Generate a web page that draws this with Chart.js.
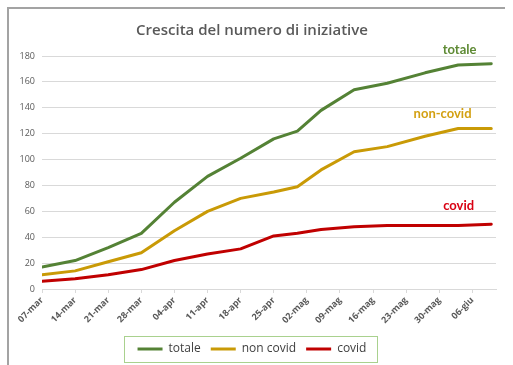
<!DOCTYPE html>
<html lang="it">
<head>
<meta charset="utf-8">
<title>Crescita del numero di iniziative</title>
<script src="https://cdn.jsdelivr.net/npm/chart.js@4.4.1/dist/chart.umd.min.js"></script>
<style>
  html, body { margin: 0; padding: 0; background: #ffffff; }
  #wrap { width: 513px; height: 365px; position: relative; }
</style>
</head>
<body>
<div id="wrap"><canvas id="grafico" width="513" height="365"></canvas></div>
<script>
// Date di rilevazione (2020)
const dateRilevazione = [
  '2020-03-07', '2020-03-14', '2020-03-21', '2020-03-28', '2020-04-04',
  '2020-04-11', '2020-04-18', '2020-04-25', '2020-04-30', '2020-05-05',
  '2020-05-12', '2020-05-19', '2020-05-27', '2020-06-03', '2020-06-10'
];

// Numero cumulato di iniziative
const totale   = [17, 22, 32, 43, 67, 87, 101, 116, 122, 138, 154, 159, 167, 173, 174];
const nonCovid = [11, 14, 21, 28, 45, 60,  70,  75,  79,  92, 106, 110, 118, 124, 124];
const covid    = [ 6,  8, 11, 15, 22, 27,  31,  41,  43,  46,  48,  49,  49,  49,  50];

// Etichette settimanali dell'asse orizzontale
const etichetteSettimane = [
  '07-mar', '14-mar', '21-mar', '28-mar', '04-apr', '11-apr', '18-apr',
  '25-apr', '02-mag', '09-mag', '16-mag', '23-mag', '30-mag', '06-giu'
];

// Etichette poste accanto alle serie
const etichetteSerie = ['totale', 'non-covid', 'covid'];

const giornoZero = Date.parse(dateRilevazione[0]);
const giorno = d => Math.round((Date.parse(d) - giornoZero) / 864e5);
const punti = serie => dateRilevazione.map((d, i) => ({ x: giorno(d), y: serie[i] }));

const VERDE = '#548235', ORO = '#C99A06', ROSSO = '#C00000';
const GRIGIO = '#595959', GRIGLIA = '#d9d9d9';

const cornice = {
  id: 'cornice',
  beforeDraw(chart) {
    const c = chart.ctx;
    c.save();
    c.fillStyle = '#ffffff';
    c.fillRect(0, 0, chart.width, chart.height);
    c.strokeStyle = '#a3a3a3';
    c.lineWidth = 2;
    c.beginPath();
    c.moveTo(8, chart.height);
    c.lineTo(8, 8);
    c.lineTo(505, 8);
    c.stroke();
    c.restore();
  },
  afterDraw(chart) {
    const c = chart.ctx;
    const xs = chart.scales.x, ys = chart.scales.y;
    // testi accanto alle curve
    const pos = [[88.3, 185, '#5E8A34'], [84.7, 135.4, '#D3A012'], [88.1, 64.1, '#D90012']];
    c.save();
    c.font = 'bold 13px Lato';
    c.textAlign = 'center';
    c.textBaseline = 'middle';
    etichetteSerie.forEach((t, i) => {
      c.fillStyle = pos[i][2];
      c.fillText(t, xs.getPixelForValue(pos[i][0]), ys.getPixelForValue(pos[i][1]));
    });
    // riquadro della legenda
    const lg = chart.legend;
    if (lg && lg.legendHitBoxes && lg.legendHitBoxes.length) {
      const hb = lg.legendHitBoxes;
      const x0 = Math.min(...hb.map(h => h.left)) - 14;
      const x1 = Math.max(...hb.map(h => h.left + h.width)) + 10;
      const y0 = Math.min(...hb.map(h => h.top)) - 7;
      const y1 = Math.max(...hb.map(h => h.top + h.height)) + 7;
      c.strokeStyle = '#A9D18E';
      c.lineWidth = 1;
      c.strokeRect(Math.round(x0) + 0.5, Math.round(y0) + 0.5, Math.round(x1 - x0), Math.round(y1 - y0));
    }
    c.restore();
  }
};

const serie = (label, dati, colore) => ({
  label, data: punti(dati), borderColor: colore, backgroundColor: colore,
  borderWidth: 3, pointRadius: 0, tension: 0, borderJoinStyle: 'round', borderCapStyle: 'round'
});

new Chart(document.getElementById('grafico'), {
  type: 'line',
  data: {
    datasets: [
      serie('totale', totale, VERDE),
      serie('non covid', nonCovid, ORO),
      serie('covid', covid, ROSSO)
    ]
  },
  options: {
    responsive: false,
    animation: false,
    layout: { padding: { left: 8, right: 17, top: 0, bottom: 0 } },
    plugins: {
      title: {
        display: true,
        text: 'Crescita del numero di iniziative',
        color: GRIGIO,
        font: { family: 'Open Sans', size: 15, weight: '600' },
        padding: { top: 22, bottom: 16 }
      },
      legend: {
        position: 'bottom',
        labels: {
          color: '#404040',
          font: { family: 'Open Sans', size: 12 },
          usePointStyle: true,
          pointStyle: 'line',
          pointStyleWidth: 25,
          padding: 10
        }
      },
      tooltip: { enabled: false }
    },
    scales: {
      x: {
        type: 'linear',
        min: 0,
        max: 96,
        afterFit: s => { s.height = 44; },
        border: { color: GRIGLIA, width: 1 },
        grid: { drawOnChartArea: false, color: GRIGLIA, tickLength: 4 },
        ticks: {
          stepSize: 7,
          includeBounds: false,
          autoSkip: false,
          minRotation: 45,
          maxRotation: 45,
          padding: 2,
          color: GRIGIO,
          font: { family: 'Open Sans', size: 9, weight: 'bold' },
          callback: v => etichetteSettimane[v / 7] ?? ''
        }
      },
      y: {
        min: 0,
        max: 180,
        afterFit: s => { s.width = 34; },
        border: { display: false },
        grid: { color: GRIGLIA, drawTicks: false },
        ticks: {
          stepSize: 20,
          padding: 7,
          color: GRIGIO,
          font: { family: 'Open Sans', size: 9 }
        }
      }
    }
  },
  plugins: [cornice]
});
</script>
</body>
</html>
